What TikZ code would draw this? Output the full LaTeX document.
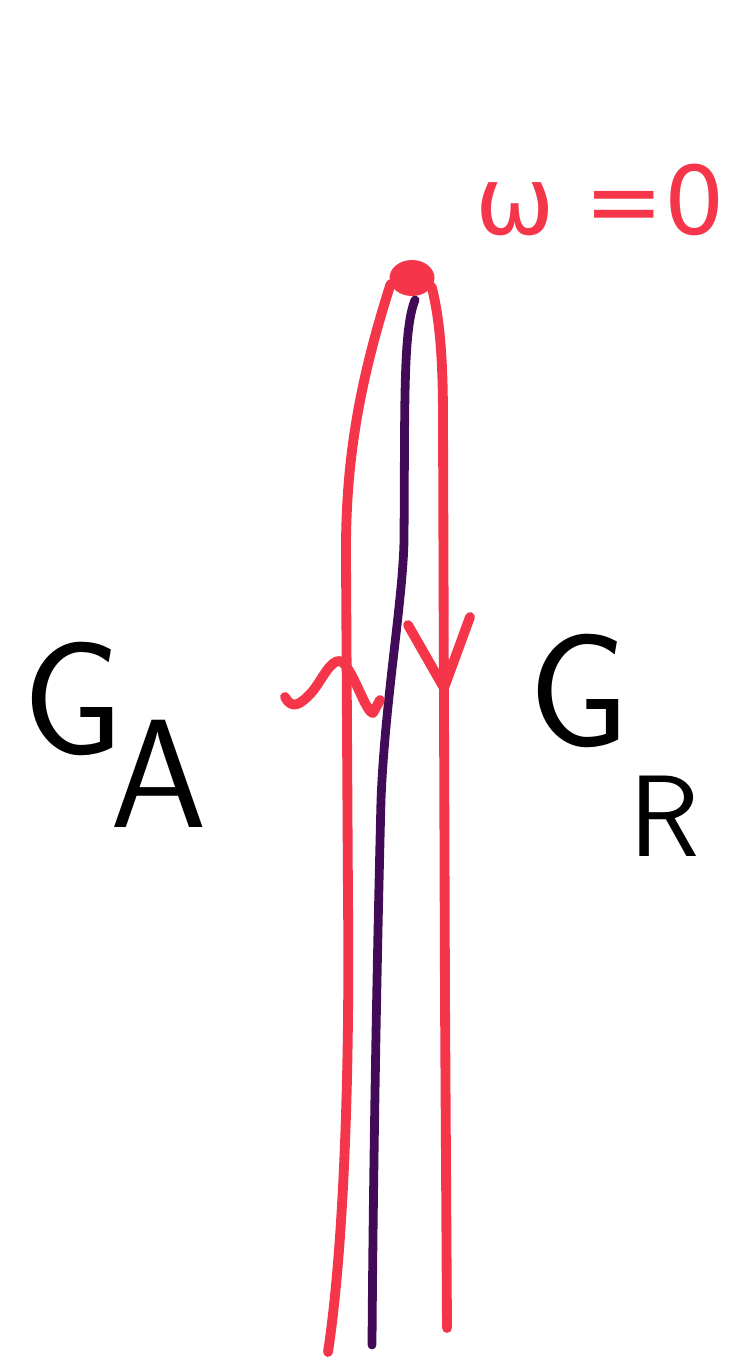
\documentclass[tikz,border=0pt]{standalone}
\usepackage{fontspec}
\newfontfamily\greekfont{DejaVu Sans}
\usepackage{xcolor}
\definecolor{penred}{HTML}{F5364A}
\definecolor{penpurple}{HTML}{420B58}
\begin{document}
\begin{tikzpicture}[x=0.02cm, y=-0.02cm]
        \tikzstyle{redline}=[draw=penred, line width=5.6pt, line cap=round, line join=round];
        \tikzstyle{purpleline}=[draw=penpurple, line width=5pt, line cap=round];
        \tikzstyle{bigletter}=[font=\sffamily\fontsize{92}{92}\selectfont, inner sep=0pt];
        \useasboundingbox (0,0) rectangle (734,1361);

        % pinch point and label
        \node[circle, fill=penred, minimum size=0.9cm, inner sep=0pt, yscale=0.8] (top) at (412,278) {};
        \node[text=penred, font=\greekfont\fontsize{54}{54}\selectfont] (omega) at (600,200) {ω =0};

        % loose ends at the bottom
        \coordinate (leftEnd) at (328,1352);
        \coordinate (midEnd) at (372,1345);
        \coordinate (rightEnd) at (447,1328);

        % the three strands
        \draw[redline] (top.200) .. controls (360,380) and (345,460) .. (346,560)
            -- (348,900) .. controls (350,1100) and (342,1260) .. (leftEnd);
        \draw[purpleline] (415,300) .. controls (403,330) and (405,400) .. (404,540)
            .. controls (403,600) and (385,700) .. (381,800)
            .. controls (376,1000) and (373,1200) .. (midEnd);
        \draw[redline] (top.-30) .. controls (440,320) and (443,360) .. (443,420)
            -- (445,1000) -- (rightEnd);

        % arrow marks
        \draw[redline] (285,697) .. controls (292,710) and (300,705) .. (312,692)
            .. controls (322,680) and (330,660) .. (340,661)
            .. controls (352,665) and (365,712) .. (373,713)
            -- (380,700);
        \draw[redline] (408,625) -- (444,688) -- (470,617);

        % labels of the two sides
        \node[bigletter, anchor=north west] (ga) at (22,642) {G\kern-0.08em\raisebox{-0.45em}{\fontsize{88}{88}\selectfont A}};
        \node[bigletter, anchor=north west] (gr) at (528,634) {G\raisebox{-0.68em}{\fontsize{66}{66}\selectfont R}};
    \end{tikzpicture}
\end{document}
